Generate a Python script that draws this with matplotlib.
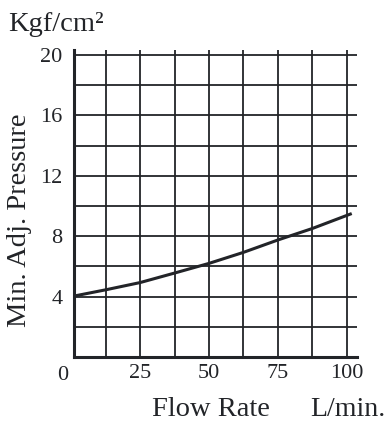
import matplotlib
matplotlib.use("Agg")
import matplotlib.pyplot as plt
from matplotlib.ticker import FixedLocator

# Minimum adjustable pressure vs. flow rate
flow_rate = [0, 12.5, 25, 37.5, 50, 62.5, 75, 87.5, 101.8]
min_pressure = [4.0, 4.45, 4.93, 5.56, 6.2, 6.93, 7.75, 8.51, 9.5]

x_major = [25, 50, 75, 100]
x_minor = [12.5, 37.5, 62.5, 87.5]
y_major = [4, 8, 12, 16, 20]
y_minor = [2, 6, 10, 14, 18]

ink = "#222428"
plt.rcParams["font.family"] = ["Liberation Serif", "DejaVu Serif"]

W, H = 390, 424
fig = plt.figure(figsize=(W / 100, H / 100), dpi=100)
left, right, top, bottom = 73.5, 356.7, 50, 357
ax = fig.add_axes([left / W, (H - bottom) / H, (right - left) / W, (bottom - top) / H])

ax.set_xlim(0.8, 103.6)
ax.set_ylim(0, 20.33)

ax.xaxis.set_major_locator(FixedLocator(x_major))
ax.xaxis.set_minor_locator(FixedLocator(x_minor))
ax.yaxis.set_major_locator(FixedLocator(y_major))
ax.yaxis.set_minor_locator(FixedLocator(y_minor))
ax.set_xticklabels([str(v) for v in x_major])
ax.set_yticklabels([str(v) for v in y_major])

ax.grid(True, which="both", color=ink, linewidth=1.3)
ax.set_axisbelow(True)
ax.tick_params(which="both", length=0, labelsize=16, labelcolor=ink)
ax.tick_params(axis="x", pad=5)
ax.tick_params(axis="y", pad=8)

for side in ("top", "right"):
    ax.spines[side].set_visible(False)
for side in ("left", "bottom"):
    ax.spines[side].set_linewidth(2.2)
    ax.spines[side].set_color(ink)

ax.plot(flow_rate, min_pressure, color=ink, linewidth=2.2, solid_capstyle="butt", zorder=3)

# origin label sits left of the y axis
ax.text(-3.1, -0.03, "0", transform=ax.get_xaxis_transform(), ha="center", va="top",
        fontsize=16, color=ink)

fig.text(8 / W, 1 - 31 / H, "Kgf/cm²", fontsize=20.5, color=ink, ha="left", va="baseline")
fig.text(19.5 / W, 1 - 220 / H, "Min. Adj. Pressure", fontsize=20.5, color=ink,
         rotation=90, ha="center", va="center")
fig.text(211 / W, 1 - 416 / H, "Flow Rate", fontsize=20.5, color=ink, ha="center", va="baseline")
fig.text(385 / W, 1 - 416 / H, "L/min.", fontsize=20, color=ink, ha="right", va="baseline")

fig.savefig("out.png", dpi=100)
